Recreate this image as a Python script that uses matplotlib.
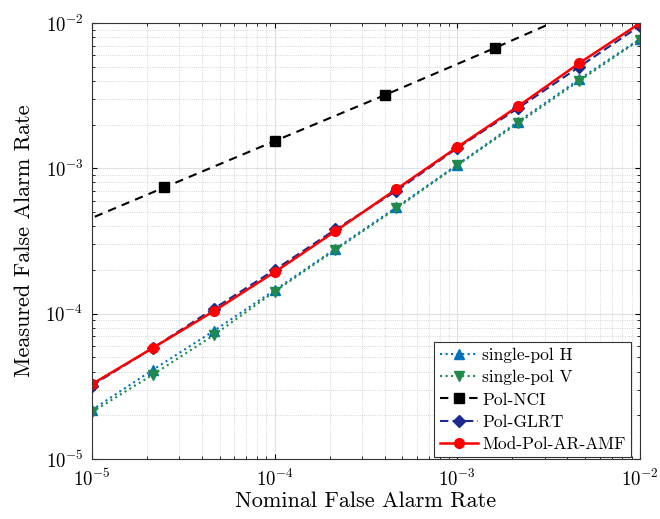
import numpy as np
import matplotlib
matplotlib.use('Agg')
import matplotlib.pyplot as plt

# Data
nominal = np.logspace(-5, -2, 10)
single_h = [2.17e-5, 4.1e-5, 7.6e-5, 1.45e-4, 2.8e-4, 5.4e-4, 1.06e-3, 2.1e-3, 4.1e-3, 7.8e-3]
single_v = [2.1e-5, 3.8e-5, 7.1e-5, 1.42e-4, 2.75e-4, 5.3e-4, 1.05e-3, 2.05e-3, 4.0e-3, 7.7e-3]
pol_glrt = [3.2e-5, 5.8e-5, 1.08e-4, 2.0e-4, 3.8e-4, 7.0e-4, 1.38e-3, 2.6e-3, 5.0e-3, 9.6e-3]
mod_pol = [3.27e-5, 5.8e-5, 1.04e-4, 1.93e-4, 3.7e-4, 7.2e-4, 1.40e-3, 2.68e-3, 5.3e-3, 1.0e-2]
nci_nominal = [6.25e-6, 2.5e-5, 1e-4, 4e-4, 1.6e-3, 6.4e-3]
pol_nci = [3.55e-4, 7.4e-4, 1.54e-3, 3.19e-3, 6.73e-3, 1.45e-2]

plt.rcParams['font.family'] = 'serif'
plt.rcParams['font.serif'] = ['cmr10']
plt.rcParams['mathtext.fontset'] = 'cm'
plt.rcParams['axes.formatter.use_mathtext'] = True

fig = plt.figure(figsize=(6.6, 5.19), dpi=100)
ax = fig.add_axes([0.139, 0.1156, 0.831, 0.84])

ax.plot(nominal, single_h, ':', color='#0072BD', marker='^', ms=7, lw=1.5, label='single-pol H')
ax.plot(nominal, single_v, ':', color='#1f8a4c', marker='v', ms=7, lw=1.5, label='single-pol V')
ax.plot(nci_nominal, pol_nci, '--', color='black', marker='s', ms=7, lw=1.5,
        dashes=(4, 3), label='Pol-NCI')
ax.plot(nominal, pol_glrt, '--', color='#1a2a8f', marker='D', ms=6, lw=1.5,
        dashes=(4, 2), label='Pol-GLRT')
ax.plot(nominal, mod_pol, '-', color='red', marker='o', ms=7, lw=1.8, label='Mod-Pol-AR-AMF')

ax.set_xscale('log')
ax.set_yscale('log')
ax.set_xlim(1e-5, 1e-2)
ax.set_ylim(1e-5, 1e-2)

ax.grid(True, which='major', color='#e0e0e0', lw=0.8, ls='-')
ax.grid(True, which='minor', color='#c8c8c8', lw=0.6, ls=':')
ax.set_axisbelow(True)
ax.tick_params(which='both', direction='in', top=True, right=True, labelsize=13.5)
ax.tick_params(axis='x', pad=7)
ax.tick_params(axis='y', pad=6)
for s in ax.spines.values():
    s.set_color('#333333')
    s.set_linewidth(0.8)

ax.set_xlabel('Nominal False Alarm Rate', fontsize=16, labelpad=1)
ax.set_ylabel('Measured False Alarm Rate', fontsize=16, labelpad=8)

leg = ax.legend(loc='lower right', bbox_to_anchor=(0.983, 0.004), fontsize=12.5,
                fancybox=False, framealpha=1, edgecolor='#333333', handlelength=2.2,
                borderpad=0.3, labelspacing=0.4, handletextpad=0.25, borderaxespad=0)
leg.get_frame().set_linewidth(0.8)

fig.savefig('out.png', dpi=100)
